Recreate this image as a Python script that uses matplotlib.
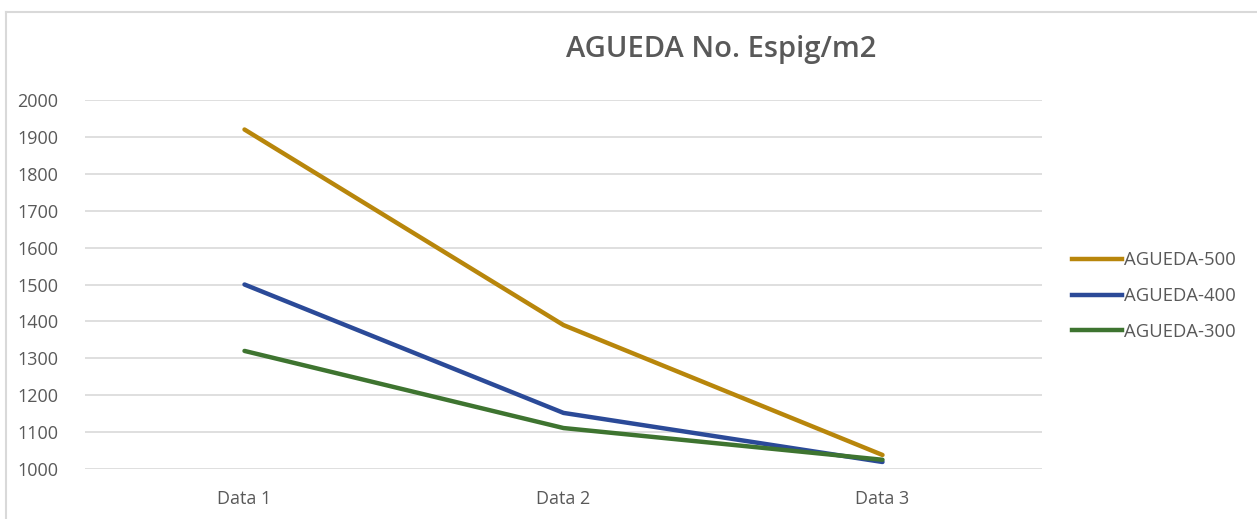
import matplotlib.pyplot as plt
from matplotlib.lines import Line2D

plt.rcParams["font.family"] = ["Open Sans", "DejaVu Sans"]

categories = ["Data 1", "Data 2", "Data 3"]
series_names = ["AGUEDA-500", "AGUEDA-400", "AGUEDA-300"]
agueda_500 = [1920, 1390, 1038]
agueda_400 = [1500, 1152, 1019]
agueda_300 = [1320, 1111, 1025]
y_ticks = [1000, 1100, 1200, 1300, 1400, 1500, 1600, 1700, 1800, 1900, 2000]

colors = ["#B8860B", "#2B4A98", "#3E7430"]
text_gray = "#595959"

W, H = 1257, 519
fig = plt.figure(figsize=(W / 100, H / 100), dpi=100)

# axes placed in pixel coords of the reference
left, right, bottom, top = 85, 1042, 469, 100
ax = fig.add_axes([left / W, 1 - bottom / H, (right - left) / W, (bottom - top) / H])

x = list(range(len(categories)))
for vals, name, c in zip([agueda_500, agueda_400, agueda_300], series_names, colors):
    ax.plot(x, vals, color=c, lw=3.2, label=name, solid_capstyle="round",
            solid_joinstyle="round", zorder=3)

ax.set_xlim(-0.5, len(categories) - 0.5)
ax.set_ylim(1000, 2000)
ax.set_yticks(y_ticks)
ax.set_xticks(x)
ax.set_xticklabels(categories)
ax.grid(axis="y", color="#D9D9D9", lw=1.2, zorder=0)
ax.tick_params(axis="both", length=0, labelsize=13, labelcolor=text_gray)
ax.tick_params(axis="y", pad=19)
ax.tick_params(axis="x", pad=15)
for sp in ax.spines.values():
    sp.set_visible(False)

fig.text(721 / W, 1 - 50 / H, "AGUEDA No. Espig/m2", ha="center", va="center",
         fontsize=21, fontweight="semibold", color=text_gray)

handles = [Line2D([], [], color=c, lw=3.2) for c in colors]
fig.legend(handles, series_names, loc="center left",
           bbox_to_anchor=(1072 / W, 1 - 296 / H), frameon=False,
           borderpad=0, borderaxespad=0,
           fontsize=13.3, labelcolor=text_gray, handlelength=2.7,
           handletextpad=0.1, labelspacing=0.95)

# outer chart border
fig.add_artist(Line2D([6 / W, 6 / W], [0, 1 - 12 / H], color="#D9D9D9", lw=1.5))
fig.add_artist(Line2D([6 / W, 1], [1 - 12 / H, 1 - 12 / H], color="#D9D9D9", lw=1.5))

fig.savefig("out.png", dpi=100)
